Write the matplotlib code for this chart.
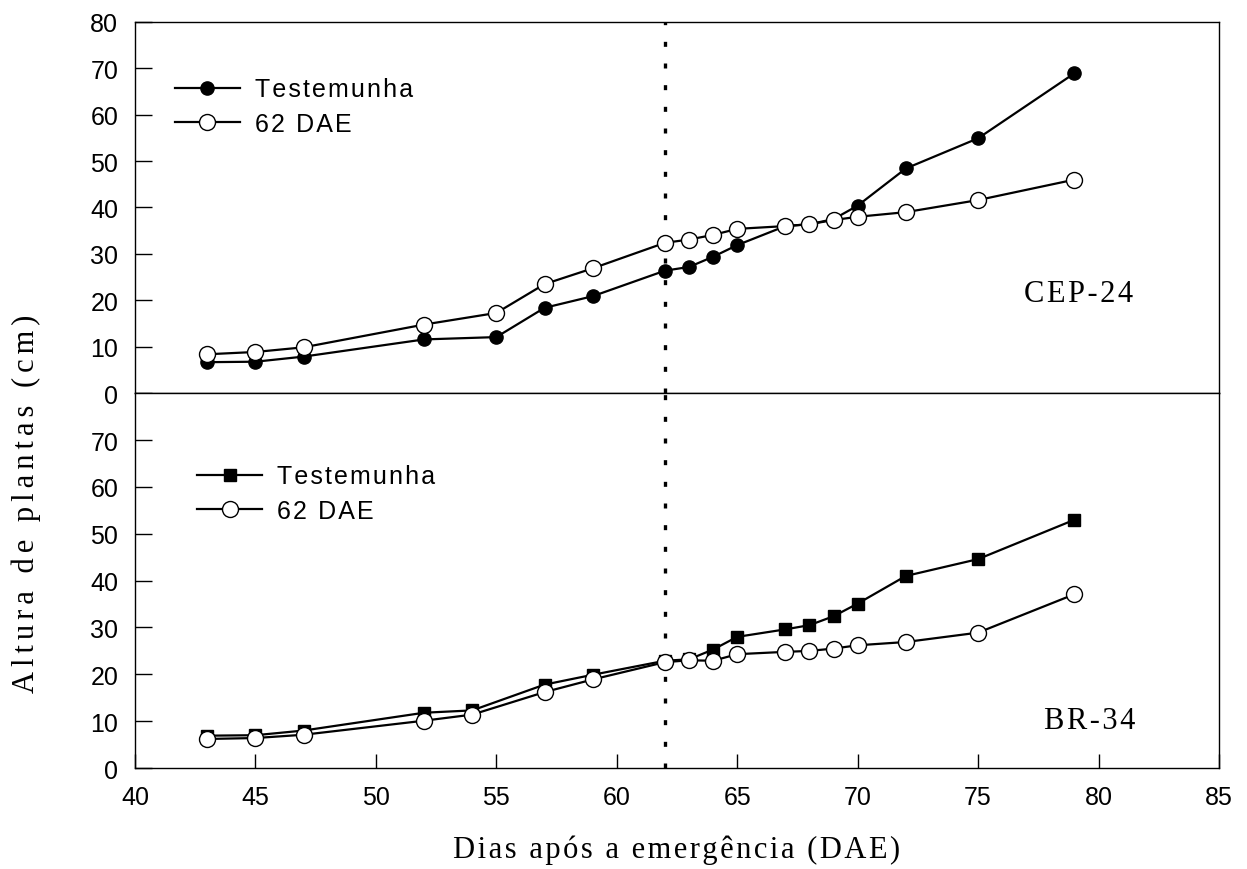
import matplotlib
matplotlib.use("Agg")
import matplotlib.pyplot as plt

# dias apos a emergencia
dae_cep = [43, 45, 47, 52, 55, 57, 59, 62, 63, 64, 65, 67, 68, 69, 70, 72, 75, 79]
dae_br = [43, 45, 47, 52, 54, 57, 59, 62, 63, 64, 65, 67, 68, 69, 70, 72, 75, 79]

# CEP-24
cep_test = [6.7, 6.8, 7.9, 11.6, 12.1, 18.4, 20.9, 26.4, 27.2, 29.4, 31.9, 36.0, 36.4, 37.5, 40.4, 48.4, 54.9, 68.9]
cep_62 = [8.4, 8.9, 9.9, 14.8, 17.3, 23.5, 26.9, 32.4, 33.1, 34.1, 35.4, 36.0, 36.4, 37.3, 38.0, 39.0, 41.6, 46.0]

# BR-34
br_test = [6.9, 7.0, 8.0, 11.8, 12.3, 17.8, 19.9, 22.9, 23.2, 25.3, 28.0, 29.6, 30.5, 32.4, 35.1, 41.0, 44.6, 53.0]
br_62 = [6.2, 6.4, 7.1, 10.1, 11.4, 16.2, 18.9, 22.6, 23.0, 22.9, 24.3, 24.8, 25.0, 25.5, 26.2, 26.9, 28.9, 37.1]

labels = ["Testemunha", "62 DAE"]
x_ticks = [40, 45, 50, 55, 60, 65, 70, 75, 80, 85]
corte = 62

sans = ["Liberation Sans", "DejaVu Sans"]
serif = ["Liberation Serif", "DejaVu Serif"]


def spaced(s, n=1):
    # hair spaces between letters, the original text is letter-spaced
    return ("\u200a" * n).join(s)


fig = plt.figure(figsize=(12.47, 8.7), dpi=100)
ax1 = fig.add_axes([0.10826, 0.54678, 0.86928, 0.42713])
ax2 = fig.add_axes([0.10826, 0.11609, 0.86928, 0.43069])

line_kw = dict(color="black", linewidth=1.6)
open_kw = dict(marker="o", markersize=11.5, markerfacecolor="white",
               markeredgecolor="black", markeredgewidth=1.0, zorder=4)

ax1.plot(dae_cep, cep_test, marker="o", markersize=9.5, markerfacecolor="black",
         markeredgecolor="black", label=labels[0], zorder=3, **line_kw)
ax1.plot(dae_cep, cep_62, label=labels[1], **open_kw, **line_kw)

ax2.plot(dae_br, br_test, marker="s", markersize=9, markerfacecolor="black",
         markeredgecolor="black", label=labels[0], zorder=3, **line_kw)
ax2.plot(dae_br, br_62, label=labels[1], **open_kw, **line_kw)

for ax in (ax1, ax2):
    ax.axvline(corte, color="black", linewidth=2.4, linestyle=(0, (1.5, 5.0)), zorder=2)
    ax.set_xlim(40, 85)
    ax.set_ylim(0, 80)
    for sp in ax.spines.values():
        sp.set_linewidth(1.0)
    ax.tick_params(axis="y", direction="in", length=12, width=1.0, pad=12,
                   labelsize=18, right=False)
    ax.tick_params(axis="x", direction="in", length=10, width=1.0, pad=12,
                   labelsize=18, top=False)

ax1.set_yticks(range(0, 81, 10))
ax1.set_xticks(x_ticks)
ax1.tick_params(axis="x", bottom=False, labelbottom=False)
ax2.set_yticks(range(0, 71, 10))
ax2.set_xticks(x_ticks)
for ax in (ax1, ax2):
    for t in ax.get_xticklabels() + ax.get_yticklabels():
        t.set_family(sans)

leg_kw = dict(loc="upper left", frameon=False, borderpad=0, borderaxespad=0,
              handlelength=2.6, handletextpad=0.6, labelspacing=0.42,
              prop={"family": sans, "size": 18})
l1 = ax1.legend(bbox_to_anchor=(0.0369, 0.85), **leg_kw)
l2 = ax2.legend(bbox_to_anchor=(0.0572, 0.81), **leg_kw)
for leg in (l1, l2):
    for t in leg.get_texts():
        t.set_text(spaced(t.get_text()))

ax1.text(0.921, 0.248, spaced("CEP-24"), transform=ax1.transAxes, ha="right",
         va="baseline", fontsize=22, family=serif)
ax2.text(0.9225, 0.107, spaced("BR-34"), transform=ax2.transAxes, ha="right",
         va="baseline", fontsize=22, family=serif)

fig.text(677 / 1247, 1 - 850 / 870, spaced("Dias após a emergência (DAE)"),
         ha="center", va="center", fontsize=22, family=serif)
fig.text(26 / 1247, 1 - 504 / 870, spaced("Altura de plantas (cm)", 2),
         ha="center", va="center", rotation=90, fontsize=22, family=serif)

fig.savefig("out.png", dpi=100)
